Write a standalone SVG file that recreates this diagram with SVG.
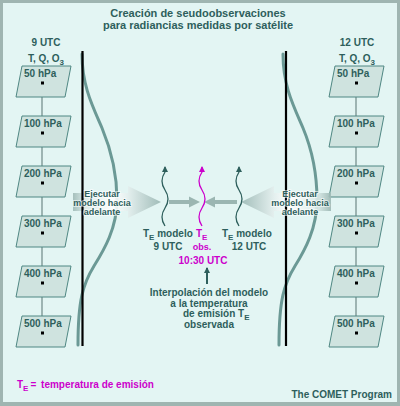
<svg xmlns="http://www.w3.org/2000/svg" width="400" height="406" viewBox="0 0 400 406">
<defs>
<style>
text{font-family:"Liberation Sans",Arial,sans-serif;font-weight:bold;fill:#2e5f5c}
.t11{font-size:11px}
.t10{font-size:10px}
.t9{font-size:9px}
.mag{fill:#cc00cc}
.c{text-anchor:middle}
.box{fill:#cfe3df;stroke:#4f8783;stroke-width:1}
.dot{fill:#000}
.link{stroke:#6f8987;stroke-width:1.2;fill:none}
.vbar{stroke:#000;stroke-width:2.2}
.wf{fill:none;stroke:#6b9995;stroke-width:3;stroke-linecap:round}
.wave{fill:none;stroke:#2e5f5c;stroke-width:1.3}
.halo{stroke:#ffffff;stroke-width:2;stroke-opacity:0.6;paint-order:stroke}
</style>
<linearGradient id="gl" gradientUnits="userSpaceOnUse" x1="73" y1="0" x2="161" y2="0">
<stop offset="0" stop-color="#9fbab6"/>
<stop offset="0.15" stop-color="#dcebe9"/>
<stop offset="0.45" stop-color="#ffffff"/>
<stop offset="0.62" stop-color="#e4efee"/>
<stop offset="1" stop-color="#99b6b2"/>
</linearGradient>
<linearGradient id="gr" gradientUnits="userSpaceOnUse" x1="330" y1="0" x2="240" y2="0">
<stop offset="0" stop-color="#9fbab6"/>
<stop offset="0.15" stop-color="#dcebe9"/>
<stop offset="0.45" stop-color="#ffffff"/>
<stop offset="0.62" stop-color="#e4efee"/>
<stop offset="1" stop-color="#99b6b2"/>
</linearGradient>
<marker id="ah" markerWidth="6" markerHeight="8" refX="5" refY="4" orient="auto" markerUnits="userSpaceOnUse">
<path d="M0,1 L6,4 L0,7 Z" fill="#2e5f5c"/>
</marker>
<marker id="ahm" markerWidth="6" markerHeight="8" refX="5" refY="4" orient="auto" markerUnits="userSpaceOnUse">
<path d="M0,1 L6,4 L0,7 Z" fill="#cc00cc"/>
</marker>
</defs>

<rect x="0" y="0" width="400" height="406" fill="#9fb5b1"/>
<rect x="3" y="3" width="394" height="399" fill="#e3f5f3"/>

<g id="title">
<text class="t11 c" x="198" y="17">Creación de seudoobservaciones</text>
<text class="t11 c" x="198" y="29">para radiancias medidas por satélite</text>
</g>

<g id="connectors">
<g id="left-links">
<line class="link" x1="42" y1="97" x2="42" y2="116"/>
<line class="link" x1="42" y1="147" x2="42" y2="166"/>
<line class="link" x1="42" y1="197" x2="42" y2="216"/>
<line class="link" x1="42" y1="247" x2="42" y2="266"/>
<line class="link" x1="42" y1="297" x2="42" y2="316"/>
</g>
<g id="right-links">
<line class="link" x1="356" y1="97" x2="356" y2="116"/>
<line class="link" x1="356" y1="147" x2="356" y2="166"/>
<line class="link" x1="356" y1="197" x2="356" y2="216"/>
<line class="link" x1="356" y1="247" x2="356" y2="266"/>
<line class="link" x1="356" y1="297" x2="356" y2="316"/>
</g>
<path id="h-left" d="M169,200 L189,200 L189,196.5 L200,202 L189,207.5 L189,204 L169,204 Z" fill="#9bb6b2"/>
<path id="h-right" d="M237,200 L215,200 L215,196.5 L204,202 L215,207.5 L215,204 L237,204 Z" fill="#9bb6b2"/>
<line id="up-arrow" x1="207" y1="284" x2="207" y2="268" stroke="#2e5f5c" stroke-width="2" marker-end="url(#ah)"/>
</g>

<g id="left-column">
<text class="t10 c" x="46" y="46">9 UTC</text>
<text class="t10 c" x="46" y="62">T, Q, O<tspan font-size="8" dy="3">3</tspan></text>
<g id="l50"><polygon class="box" points="22,66 71,66 65,97 16,97"/><text class="t10" x="24" y="77">50 hPa</text><rect class="dot" x="41" y="81.5" width="3" height="3"/></g>
<g id="l100"><polygon class="box" points="22,116 71,116 65,147 16,147"/><text class="t10" x="24" y="127">100 hPa</text><rect class="dot" x="41" y="131.5" width="3" height="3"/></g>
<g id="l200"><polygon class="box" points="22,166 71,166 65,197 16,197"/><text class="t10" x="24" y="177">200 hPa</text><rect class="dot" x="41" y="181.5" width="3" height="3"/></g>
<g id="l300"><polygon class="box" points="22,216 71,216 65,247 16,247"/><text class="t10" x="24" y="227">300 hPa</text><rect class="dot" x="41" y="231.5" width="3" height="3"/></g>
<g id="l400"><polygon class="box" points="22,266 71,266 65,297 16,297"/><text class="t10" x="24" y="277">400 hPa</text><rect class="dot" x="41" y="281.5" width="3" height="3"/></g>
<g id="l500"><polygon class="box" points="22,316 71,316 65,347 16,347"/><text class="t10" x="24" y="327">500 hPa</text><rect class="dot" x="41" y="331.5" width="3" height="3"/></g>
</g>

<g id="right-column">
<text class="t10 c" x="357" y="46">12 UTC</text>
<text class="t10 c" x="357" y="62">T, Q, O<tspan font-size="8" dy="3">3</tspan></text>
<g id="r50"><polygon class="box" points="335,66 384,66 378,97 329,97"/><text class="t10" x="337" y="77">50 hPa</text><rect class="dot" x="355" y="81.5" width="3" height="3"/></g>
<g id="r100"><polygon class="box" points="335,116 384,116 378,147 329,147"/><text class="t10" x="337" y="127">100 hPa</text><rect class="dot" x="355" y="131.5" width="3" height="3"/></g>
<g id="r200"><polygon class="box" points="335,166 384,166 378,197 329,197"/><text class="t10" x="337" y="177">200 hPa</text><rect class="dot" x="355" y="181.5" width="3" height="3"/></g>
<g id="r300"><polygon class="box" points="335,216 384,216 378,247 329,247"/><text class="t10" x="337" y="227">300 hPa</text><rect class="dot" x="355" y="231.5" width="3" height="3"/></g>
<g id="r400"><polygon class="box" points="335,266 384,266 378,297 329,297"/><text class="t10" x="337" y="277">400 hPa</text><rect class="dot" x="355" y="281.5" width="3" height="3"/></g>
<g id="r500"><polygon class="box" points="335,316 384,316 378,347 329,347"/><text class="t10" x="337" y="327">500 hPa</text><rect class="dot" x="355" y="331.5" width="3" height="3"/></g>
</g>

<g id="weighting-functions">
<path class="wf" d="M82,54 C82,85 92,105 102,128 C112,152 117,175 117,200 C117,228 104,250 94,266 C83,284 78,300 78,345"/>
<path class="wf" transform="translate(201,0)" d="M82,54 C82,85 92,105 102,128 C112,152 116,175 116,200 C116,228 104,250 94,266 C83,284 78,300 78,345"/>
</g>

<g id="run-left">
<path d="M73,193 L128,193 L128,186 L161,202 L128,218 L128,211 L73,211 Z" fill="url(#gl)" fill-opacity="0.9"/>
</g>
<g id="run-right">
<path d="M331,193 L274,193 L274,186 L241,202 L274,218 L274,211 L331,211 Z" fill="url(#gr)" fill-opacity="0.9"/>
</g>

<g id="bars">
<line class="vbar" x1="82.5" y1="51" x2="82.5" y2="346"/>
<line class="vbar" x1="286" y1="51" x2="286" y2="346"/>
</g>

<g id="run-left-label">
<text class="t9 c halo" x="102" y="197">Ejecutar</text>
<text class="t9 c halo" x="102" y="206">modelo hacia</text>
<text class="t9 c halo" x="102" y="215">adelante</text>
</g>
<g id="run-right-label">
<text class="t9 c halo" x="300" y="197">Ejecutar</text>
<text class="t9 c halo" x="300" y="206">modelo hacia</text>
<text class="t9 c halo" x="300" y="215">adelante</text>
</g>

<g id="te-9utc">
<path class="wave" marker-end="url(#ah)" d="M165,226 C161,220 161,214 165,208 C169,202 169,196 165,190 C161,184 161,178 165,172 L165,167"/>
<text class="t10" x="143" y="237">T<tspan font-size="8" dy="3">E</tspan><tspan dy="-3"> modelo</tspan></text>
<text class="t10 c" x="168" y="250">9 UTC</text>
</g>
<g id="te-obs">
<path class="wave" style="stroke:#cc00cc" marker-end="url(#ahm)" d="M202,226 C198,220 198,214 202,208 C206,202 206,196 202,190 C198,184 198,178 202,172 L202,167"/>
<text class="t10 mag" x="196" y="237">T<tspan font-size="8" dy="3">E</tspan></text>
<text class="t9 mag c" x="202" y="250">obs.</text>
<text class="t10 mag c" x="203" y="264">10:30 UTC</text>
</g>
<g id="te-12utc">
<path class="wave" marker-end="url(#ah)" d="M239,226 C235,220 235,214 239,208 C243,202 243,196 239,190 C235,184 235,178 239,172 L239,167"/>
<text class="t10" x="222" y="237">T<tspan font-size="8" dy="3">E</tspan><tspan dy="-3"> modelo</tspan></text>
<text class="t10 c" x="249" y="250">12 UTC</text>
</g>

<g id="interp-note">
<text class="t10 c" x="209" y="296">Interpolación del modelo</text>
<text class="t10 c" x="209" y="306.5">a la temperatura</text>
<text class="t10" x="183" y="317">de emisión T<tspan font-size="8" dy="3">E</tspan></text>
<text class="t10 c" x="209" y="327.5">observada</text>
</g>

<g id="legend">
<text class="t10 mag" x="17" y="388">T<tspan font-size="8" dy="3">E</tspan><tspan dy="-3" dx="2">= </tspan><tspan dx="2">temperatura de emisión</tspan></text>
<text class="t10" x="392" y="398" text-anchor="end">The COMET Program</text>
</g>
</svg>
